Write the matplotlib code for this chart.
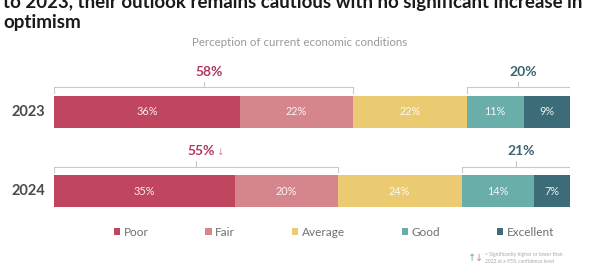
import matplotlib
matplotlib.use("Agg")
import matplotlib.pyplot as plt
from matplotlib.patches import Patch

plt.rcParams['font.family'] = ['Lato', 'DejaVu Sans']

years = ["2023", "2024"]
categories = ["Poor", "Fair", "Average", "Good", "Excellent"]
values = {
    "2023": [36, 22, 22, 11, 9],
    "2024": [35, 20, 24, 14, 7],
}
neg_totals = ["58%", "55%"]
pos_totals = ["20%", "21%"]
colors = ["#C0465F", "#D5868C", "#EBCB72", "#69AEA9", "#3D6C79"]

fig = plt.figure(figsize=(6, 2.7), dpi=100)

# title (top line cut off like the slide crop)
fig.text(0.005, 1 - 8 / 270, "to 2023, their outlook remains cautious with no significant increase in",
         fontsize=13.5, fontweight="bold", color="#1a1a1a", va="baseline", ha="left")
fig.text(0.005, 1 - 28 / 270, "optimism", fontsize=13.5, fontweight="bold", color="#1a1a1a",
         va="baseline", ha="left")
fig.text(0.5, 1 - 42 / 270, "Perception of current economic conditions", fontsize=8.3,
         color="#999999", ha="center", va="center")

ax = fig.add_axes([54 / 600, 50 / 270, 516 / 600, 160 / 270])
ax.set_xlim(0, 100)
ax.set_ylim(1.367, -0.658)
ax.axis("off")

bar_h = 0.405
for i, yr in enumerate(years):
    left = 0
    for v, c in zip(values[yr], colors):
        ax.barh(i, v, left=left, height=bar_h, color=c, edgecolor="none")
        ax.text(left + v / 2, i, f"{v}%", color="white", fontsize=7.8,
                ha="center", va="center", alpha=0.9)
        left += v
    ax.text(-4.9, i, yr, fontsize=10.5, fontweight="bold", color="#4a4a4a",
            ha="center", va="center", clip_on=False)


def bracket(x0, x1, y, label, col, arrow=None):
    yb = y - 0.31
    ax.plot([x0, x0, x1, x1], [y - 0.24, yb, yb, y - 0.24], color="#c9c9c9", lw=0.8)
    xm = (x0 + x1) / 2
    ax.plot([xm, xm], [yb, y - 0.38], color="#c9c9c9", lw=0.8)
    ax.text(xm + 1, y - 0.5, label, color=col, fontsize=10, fontweight="bold",
            ha="center", va="center")
    if arrow:
        ax.text(xm + 4.6, y - 0.49, arrow, color="#D5868C", fontsize=6.5,
                ha="center", va="center", family=["DejaVu Sans"])


for i, yr in enumerate(years):
    v = values[yr]
    bracket(0, v[0] + v[1], i, neg_totals[i], "#B3395C", arrow="↓" if i == 1 else None)
    bracket(100 - v[3] - v[4], 100, i, pos_totals[i], "#3D6470")

handles = [Patch(facecolor=c, edgecolor="none") for c in colors]
fig.legend(handles, categories, loc="center left", bbox_to_anchor=(103 / 600, 1 - 232 / 270),
           ncol=5, frameon=False, fontsize=8.5, labelcolor="#6f6f6f",
           handlelength=0.55, handleheight=0.55, handletextpad=0.3, columnspacing=4.8)

# significance note
fig.text(472 / 600, 1 - 258 / 270, "↑", color="#69AEA9", fontsize=7, ha="center", va="center",
         family=["DejaVu Sans"])
fig.text(479 / 600, 1 - 258 / 270, "↓", color="#D5868C", fontsize=7, ha="center", va="center",
         family=["DejaVu Sans"])
fig.text(485 / 600, 1 - 258 / 270, "= Significantly higher or lower than\n2023 at a 95% confidence level",
         color="#a8a8a8", fontsize=3.6, ha="left", va="center", linespacing=1.3)

fig.savefig("out.png", dpi=100)
